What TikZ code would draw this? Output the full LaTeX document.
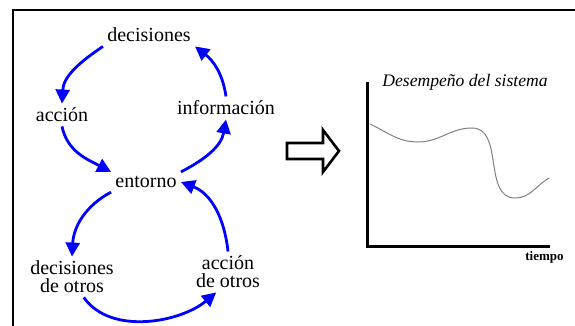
\documentclass[tikz,border=0pt]{standalone}
\usepackage{fontspec}
\setmainfont{Liberation Serif}
\usetikzlibrary{arrows.meta}

\begin{document}
\begin{tikzpicture}[x = 0.5pt, y = 0.5pt,
	lazo/.style = {blue, line width = 1.4pt, -{Triangle[length = 7pt, width = 7pt]}},
	etiq/.style = {font = \fontsize{10}{9}\selectfont, align = center, inner sep = 2pt}]
	\useasboundingbox (0, 0) rectangle (575, 326);
	\draw[line width = 1pt] (13, 0)--(13, 316)--(575, 316);

	% los dos lazos
	\node[etiq](dec) at (149, 291){decisiones};
	\node[etiq](acc) at (62, 211){acción};
	\node[etiq](info) at (226, 218){información};
	\node[etiq](ent) at (146, 144){entorno};
	\node[etiq](dotros) at (72, 49){decisiones\\de otros};
	\node[etiq](aotros) at (228, 54){acción\\de otros};

	\draw[lazo] (dec.south west) to[out = 214, in = 87] (acc.north);
	\draw[lazo] (acc.south) to[out = 282, in = 152] (ent.north west);
	\draw[lazo] (ent.north east) to[out = 27, in = 260] (info.south);
	\draw[lazo] (info.north) to[out = 98, in = 322] (dec.south east);
	\draw[lazo] (ent.south west) to[out = 208, in = 87] (dotros.north);
	\draw[lazo] (aotros.north) to[out = 96, in = 339] (ent.east);
	\draw[lazo] (dotros.-60) to[out = -55, in = -140, looseness = 0.9] (aotros.-120);

	% flecha hueca
	\draw[line width = 1.3pt, fill = white] (287, 167)--(323, 167)--(323, 154)--(339, 175)--(323, 196)--(323, 183)--(287, 183)--cycle;

	% grafica
	\coordinate(origen) at (368, 79);
	\draw[line width = 1.5pt] (368, 244)--(origen)--(550, 79);
	\node[font = \fontsize{8.8}{10}\selectfont\itshape](titulo) at (465, 244){Desempeño del sistema};
	\node[font = \fontsize{6.5}{8}\selectfont\bfseries](tiempo) at (544.5, 69){tiempo};
	\draw[gray, line width = 0.5pt] (370, 202) to[out = -25, in = 180] (418, 184) to[out = 0, in = 180] (472, 198)
		to[out = 0, in = 180] (515, 128) to[out = 0, in = 210] (549, 148);
\end{tikzpicture}
\end{document}
